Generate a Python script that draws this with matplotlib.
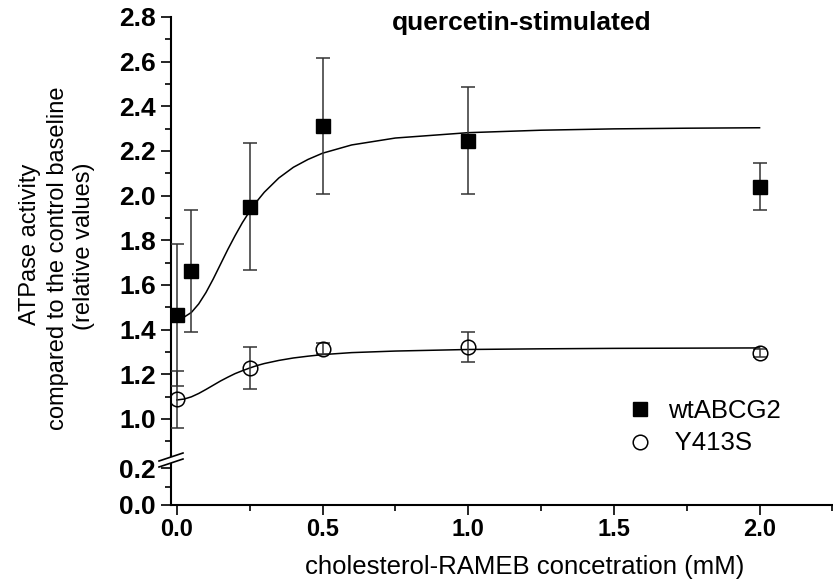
import matplotlib
matplotlib.use('Agg')
import matplotlib.pyplot as plt
from matplotlib.lines import Line2D
from matplotlib.patches import Polygon
from matplotlib.ticker import MultipleLocator

plt.rcParams['font.family'] = ['Liberation Sans', 'DejaVu Sans']

# measured points (mean +/- error)
conc = [0.0, 0.05, 0.25, 0.5, 1.0, 2.0]
wt_mean = [1.466, 1.663, 1.951, 2.312, 2.246, 2.040]
wt_err = [0.318, 0.274, 0.286, 0.306, 0.240, 0.106]

conc_y = [0.0, 0.25, 0.5, 1.0, 2.0]
y413s_mean = [1.088, 1.228, 1.315, 1.321, 1.297]
y413s_err = [0.127, 0.095, 0.026, 0.068, 0.018]

# fitted curves
fit_x = [0.0, 0.025, 0.05, 0.075, 0.1, 0.125, 0.15, 0.175, 0.2, 0.225, 0.25, 0.275, 0.3,
         0.35, 0.4, 0.45, 0.5, 0.6, 0.75, 1.0, 1.25, 1.5, 1.75, 2.0]
wt_fit = [1.450, 1.456, 1.477, 1.515, 1.566, 1.627, 1.693, 1.759, 1.821, 1.879, 1.930,
          1.975, 2.015, 2.079, 2.127, 2.162, 2.190, 2.227, 2.258, 2.282, 2.293, 2.299,
          2.302, 2.304]
y413s_fit = [1.085, 1.089, 1.099, 1.114, 1.132, 1.151, 1.170, 1.187, 1.203, 1.216, 1.228,
             1.239, 1.248, 1.262, 1.273, 1.281, 1.288, 1.297, 1.304, 1.311, 1.314, 1.316,
             1.317, 1.318]

W, H = 833, 583
fig = plt.figure(figsize=(W / 100, H / 100), dpi=100)

left = 171 / W
ax_top = fig.add_axes([left, 1 - 456 / H, 1 - left, (456 - 17) / H])
ax_bot = fig.add_axes([left, 1 - 505 / H, 1 - left, (505 - 456) / H], sharex=ax_top)

err_kw = dict(ecolor='#333333', elinewidth=1.1, capsize=5, capthick=1.1, linestyle='none')
for ax in (ax_top, ax_bot):
    ax.plot(fit_x, wt_fit, color='black', lw=1.1, zorder=2)
    ax.plot(fit_x, y413s_fit, color='black', lw=1.1, zorder=2)
    ax.errorbar(conc, wt_mean, yerr=wt_err, marker='s', ms=10, mfc='black', mec='black',
                zorder=3, **err_kw)
    ax.errorbar(conc_y, y413s_mean, yerr=y413s_err, marker='o', ms=10.5, mfc='none',
                mec='black', mew=1.1, zorder=3, **err_kw)
    for s in ('top', 'right'):
        ax.spines[s].set_visible(False)
    ax.spines['left'].set_linewidth(1.5)
    ax.spines['bottom'].set_linewidth(1.5)
    ax.tick_params(which='major', direction='out', length=7, width=1.2)
    ax.tick_params(which='minor', direction='out', length=4, width=1.2)
    ax.tick_params(axis='y', labelsize=19, pad=4)
    ax.tick_params(axis='x', labelsize=17)

ax_top.set_xlim(-0.02, 2.252)
ax_top.set_ylim(0.834, 2.8)
ax_bot.set_ylim(0.0, 0.265)

ax_top.spines['bottom'].set_visible(False)
ax_top.tick_params(axis='x', which='both', bottom=False, labelbottom=False)
ax_top.yaxis.set_minor_locator(MultipleLocator(0.1))
ax_top.set_yticks([1.0, 1.2, 1.4, 1.6, 1.8, 2.0, 2.2, 2.4, 2.6, 2.8])
ax_top.set_yticklabels(['1.0', '1.2', '1.4', '1.6', '1.8', '2.0', '2.2', '2.4', '2.6', '2.8'],
                       fontweight='bold')

ax_bot.set_yticks([0.0, 0.2])
ax_bot.set_yticklabels(['0.0', '0.2'], fontweight='bold')
ax_bot.yaxis.set_minor_locator(MultipleLocator(0.1))
ax_bot.set_xticks([0.0, 0.5, 1.0, 1.5, 2.0])
ax_bot.set_xticklabels(['0.0', '0.5', '1.0', '1.5', '2.0'], fontweight='bold')
ax_bot.xaxis.set_minor_locator(MultipleLocator(0.25))
ax_bot.tick_params(axis='x', which='major', pad=2)

# axis break marks
def fp(x, y):
    return x / W, 1 - y / H

gap = Polygon([fp(159, 461), fp(183, 453), fp(183, 459), fp(159, 467)], closed=True,
              transform=fig.transFigure, facecolor='white', edgecolor='none', zorder=5)
fig.add_artist(gap)
for y0 in (461, 467):
    (x1, y1), (x2, y2) = fp(159, y0), fp(183, y0 - 8)
    fig.add_artist(Line2D([x1, x2], [y1, y2], transform=fig.transFigure, color='black',
                          lw=1.2, zorder=6))

fig.text(0.626, 0.96, 'quercetin-stimulated', fontsize=19, fontweight='bold',
         ha='center', va='center')

# y label, three rotated lines
ylab_kw = dict(fontsize=17, rotation=90, ha='center', va='center')
fig.text(30 / W, 1 - 244 / H, 'ATPase activity', **ylab_kw)
fig.text(58 / W, 1 - 258 / H, 'compared to the control baseline', **ylab_kw)
fig.text(84 / W, 1 - 246 / H, '(relative values)', **ylab_kw)

fig.text(0.63, 0.027, 'cholesterol-RAMEB concetration (mM)', fontsize=18.5,
         ha='center', va='center')

handles = [
    Line2D([], [], marker='s', ms=10, mfc='black', mec='black', ls='none'),
    Line2D([], [], marker='o', ms=10.5, mfc='none', mec='black', mew=1.1, ls='none'),
]
fig.legend(handles, ['wtABCG2', ' Y413S'], loc='center left',
           bbox_to_anchor=(604 / W, 1 - 427 / H), frameon=False, fontsize=18.5,
           handletextpad=0.6, labelspacing=0.35, handlelength=1.0)

fig.savefig('out.png', dpi=100)
